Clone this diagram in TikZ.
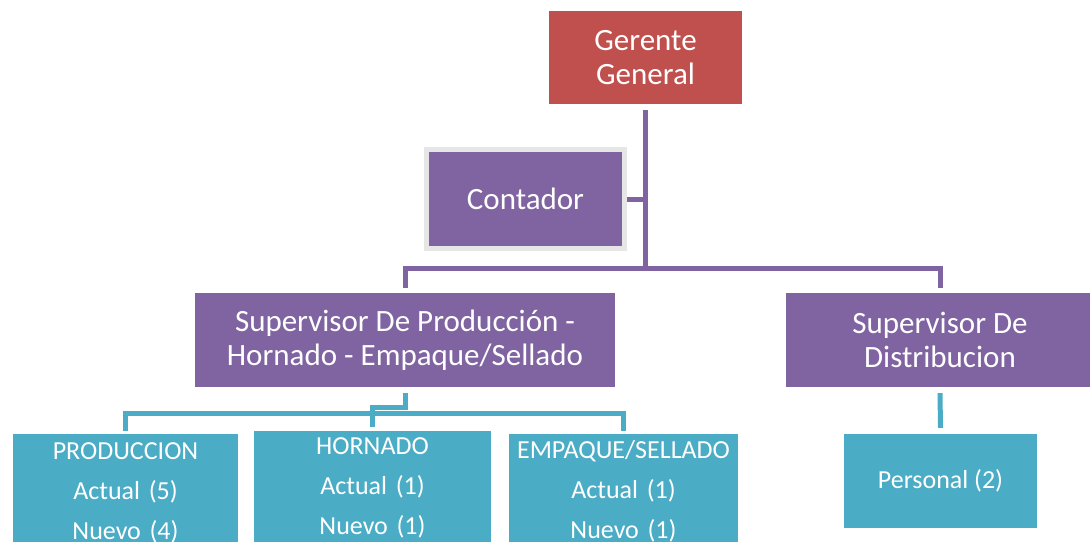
\documentclass[tikz,border=0pt]{standalone}
\usepackage{fontspec}
\setmainfont{Carlito}
\definecolor{gred}{HTML}{C0504D}
\definecolor{gpurple}{HTML}{8064A2}
\definecolor{gteal}{HTML}{4BACC6}
\definecolor{ggrey}{HTML}{E6E6E6}
\begin{document}
\begin{tikzpicture}[x=1pt,y=-1pt,
  box/.style={rectangle, inner sep=0pt, text=white, align=center},
  big/.style={box, font=\fontsize{31}{34}\selectfont},
  small/.style={box, font=\fontsize{26}{40}\selectfont},
  lowbox/.style={small, fill=gteal, anchor=north, inner xsep=0pt},
  pline/.style={draw=gpurple, line width=5pt, line join=miter},
  tline/.style={draw=gteal, line width=5pt, line join=miter}]
\useasboundingbox (0,0) rectangle (1090,541);
\clip (0,0) rectangle (1090,541);
% boxes
\node[big, fill=gred, minimum width=193pt, minimum height=93pt] (ger) at (645.5,57.5) {Gerente\\General};
\node[big, fill=gpurple, draw=ggrey, line width=5pt, minimum width=198pt, minimum height=99pt] (cont) at (525.5,199) {Contador};
\node[big, fill=gpurple, minimum width=420pt, minimum height=94pt] (sp) at (405,340) {Supervisor De Producción -\\Hornado - Empaque/Sellado};
\node[big, fill=gpurple, minimum width=308pt, minimum height=94pt] (sd) at (940,340) {Supervisor De\\Distribucion};
\node[small, fill=gteal, minimum width=193pt, minimum height=94pt] (pers) at (940.5,481) {Personal (2)};
\node[lowbox, text width=225pt, inner ysep=8pt] (prod) at (125.5,434) {PRODUCCION\\Actual (5)\\Nuevo (4)};
\node[lowbox, text width=237pt, inner ysep=6.5pt] (horn) at (372.5,431) {HORNADO\\Actual (1)\\Nuevo (1)};
\node[lowbox, text width=229pt, inner ysep=6.5pt] (emp) at (623.5,434) {EMPAQUE/SELLADO\\Actual (1)\\Nuevo (1)};
% connectors
\coordinate (jg) at (645.5,268);
\draw[pline] ([yshift=-6pt]ger.south) -- (jg);
\draw[pline] (cont.east) -- (cont.east -| jg);
\draw[pline] ([yshift=5pt]sp.north) |- (jg) -| ([yshift=5pt]sd.north);
\draw[tline] ([yshift=-6pt]sd.south) -- ([yshift=6pt]pers.north);
\coordinate (js) at (405,407);
\coordinate (jb) at (372.5,413);
\draw[tline] ([yshift=-6pt]sp.south) -- (js) -| ([yshift=4pt]horn.north);
\draw[tline] ([yshift=3pt]prod.north) |- (jb) -| ([yshift=3pt]emp.north);
\end{tikzpicture}
\end{document}
